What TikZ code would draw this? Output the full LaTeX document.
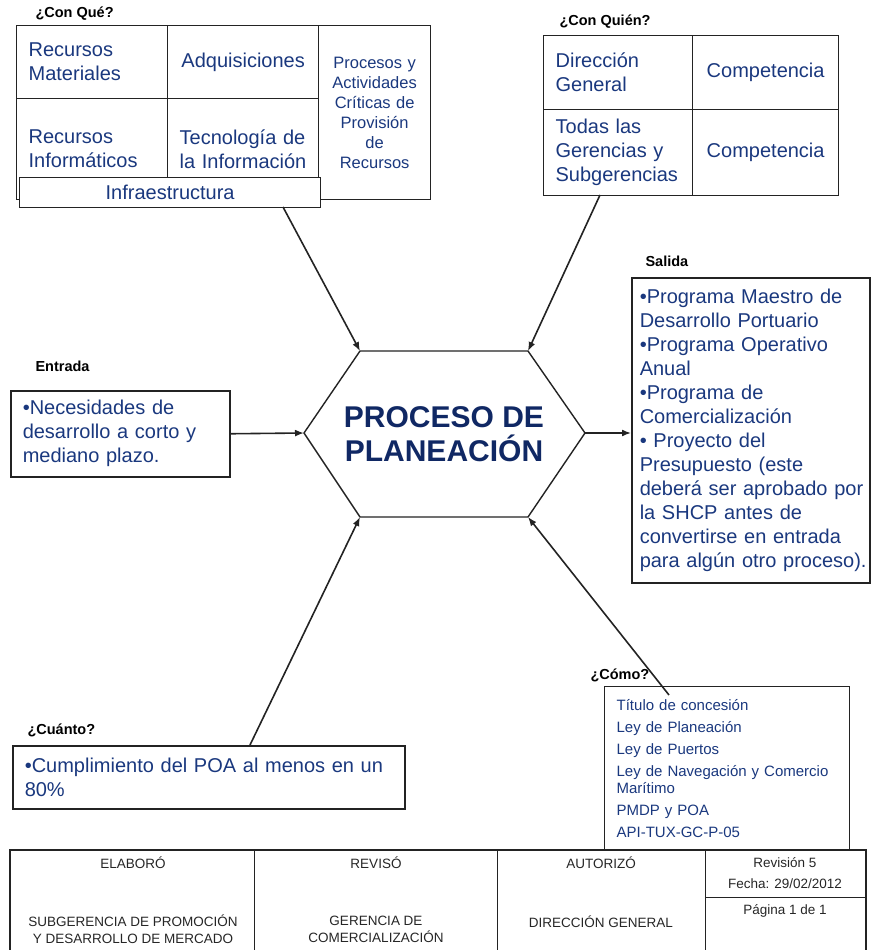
\documentclass[tikz,border=0pt]{standalone}
\usepackage{fontspec}
\setmainfont{Liberation Sans}
\usetikzlibrary{arrows.meta}
\definecolor{azul}{RGB}{26,56,126}
\definecolor{azuloscuro}{RGB}{16,40,100}
\definecolor{linea}{RGB}{35,35,35}

\begin{document}
\begin{tikzpicture}[x=1pt, y=-1pt,
    celda/.style={draw=linea, line width=1.3pt, anchor=north west, inner xsep=12pt, inner ysep=0pt, align=left, text=azul, font=\fontsize{20}{24}\selectfont},
    caja/.style={celda, line width=1.5pt},
    titulo/.style={anchor=west, font=\fontsize{14.5}{16}\selectfont\bfseries},
    flecha/.style={draw=linea, line width=1.6pt, -{Latex[length=9pt,width=7pt]}},
    pie/.style={align=center, text=black!85, font=\fontsize{13.5}{17}\selectfont}]

    \useasboundingbox (0,0) rectangle (874,950);

    % Con que (recursos)
    \node[titulo] (lblconque) at (32,14) {¿Con Qué?};
    \node[celda, text width=127pt, minimum height=73pt] (recmat) at (16,25) {Recursos\\Materiales};
    \node[celda, text width=127pt, minimum height=73pt, align=center] (adquis) at (167,25) {Adquisiciones};
    \node[celda, text width=127pt, minimum height=101pt] (recinf) at (16,98) {Recursos\\Informáticos};
    \node[celda, text width=127pt, minimum height=101pt] (tecinf) at (167,98) {Tecnología~de\\la~Información};
    \node[celda, text width=100pt, inner xsep=6pt, minimum height=174pt, align=center, font=\fontsize{16.5}{20}\selectfont] (procesos) at (318,25) {Procesos y\\Actividades\\Críticas de\\Provisión\\de\\Recursos};
    \node[celda, fill=white, text width=277pt, minimum height=30pt, align=center] (infra) at (19,177) {Infraestructura};

    % Con quien (responsables)
    \node[titulo] (lblconquien) at (556,22) {¿Con Quién?};
    \node[celda, text width=125pt, minimum height=74pt] (direccion) at (543,35) {Dirección\\General};
    \node[celda, text width=122pt, minimum height=74pt, align=center] (compdir) at (692,35) {Competencia};
    \node[celda, text width=125pt, minimum height=86pt] (gerencias) at (543,109) {Todas las\\Gerencias y\\Subgerencias};
    \node[celda, text width=122pt, minimum height=86pt, align=center] (compger) at (692,109) {Competencia};

    % Entrada
    \node[titulo] (lblentrada) at (32,366) {Entrada};
    \node[caja, text width=195pt, minimum height=86pt] (entrada) at (10,390) {•Necesidades de\\desarrollo a corto y\\mediano plazo.};

    % Proceso central (hexagono)
    \coordinate (hexW) at (304,433);
    \coordinate (hexNW) at (360,351);
    \coordinate (hexNE) at (528,351);
    \coordinate (hexE) at (585,433);
    \coordinate (hexSE) at (528,517);
    \coordinate (hexSW) at (360,517);
    \draw[linea, line width=1.4pt] (hexW) -- (hexNW) -- (hexNE) -- (hexE) -- (hexSE) -- (hexSW) -- cycle;
    \node[align=center, text=azuloscuro, font=\fontsize{30}{34}\selectfont\bfseries] (proceso) at (444,434) {PROCESO DE\\PLANEACIÓN};

    % Salida
    \node[titulo] (lblsalida) at (642,261) {Salida};
    \node[caja, inner xsep=8pt, text width=222pt, minimum height=305pt] (salida) at (631,277) {•Programa Maestro de\\Desarrollo Portuario\\•Programa Operativo\\Anual\\•Programa de\\Comercialización\\• Proyecto del\\Presupuesto (este\\\mbox{deberá ser aprobado por}\\la SHCP antes de\\convertirse en entrada\\\mbox{para algún otro proceso).}};

    % Como
    \node[titulo] (lblcomo) at (587,675) {¿Cómo?};
    \node[celda, text width=221pt, minimum height=164pt, font=\fontsize{15}{17}\selectfont] (como) at (604,686) {Título de concesión\\[5pt]Ley de Planeación\\[5pt]Ley de Puertos\\[5pt]Ley de Navegación y Comercio\\Marítimo\\[5pt]PMDP y POA\\[5pt]API-TUX-GC-P-05};

    % Cuanto
    \node[titulo] (lblcuanto) at (24,730) {¿Cuánto?};
    \node[caja, text width=368pt, minimum height=63pt] (cuanto) at (12,745) {•Cumplimiento del POA al menos en un\\80\%};

    % Flechas hacia el proceso
    \coordinate (desdeConQue) at (283,207);
    \coordinate (desdeConQuien) at (600,195);
    \coordinate (desdeComo) at (669,695);
    \coordinate (desdeCuanto) at (250,745);
    \draw[flecha] (desdeConQue) -- (hexNW);
    \draw[flecha] (desdeConQuien) -- (hexNE);
    \draw[flecha] (entrada.east) -- (hexW);
    \draw[flecha] (hexE) -- (salida.west |- hexE);
    \draw[flecha] (desdeComo) -- (hexSE);
    \draw[flecha] (desdeCuanto) -- (hexSW);

    % Pie de pagina
    \draw[linea, line width=2pt] (10,850) rectangle (866,953);
    \draw[linea, line width=1pt] (254,850) -- (254,950) (497,850) -- (497,950) (705,850) -- (705,950) (705,897) -- (866,897);
    \node[pie] (elaboro) at (133,863) {ELABORÓ};
    \node[pie] (reviso) at (376,863) {REVISÓ};
    \node[pie] (autorizo) at (601,863) {AUTORIZÓ};
    \node[pie, font=\fontsize{13.5}{21}\selectfont] (revision) at (785,873) {Revisión 5\\Fecha: 29/02/2012};
    \node[pie] (pagina) at (785,911) {Página 1 de 1};
    \node[pie] (subgerencia) at (133,929) {SUBGERENCIA DE PROMOCIÓN\\Y DESARROLLO DE MERCADO};
    \node[pie] (gerencia) at (376,929) {GERENCIA DE\\COMERCIALIZACIÓN};
    \node[pie] (dirgeneral) at (601,922) {DIRECCIÓN GENERAL};
\end{tikzpicture}
\end{document}
